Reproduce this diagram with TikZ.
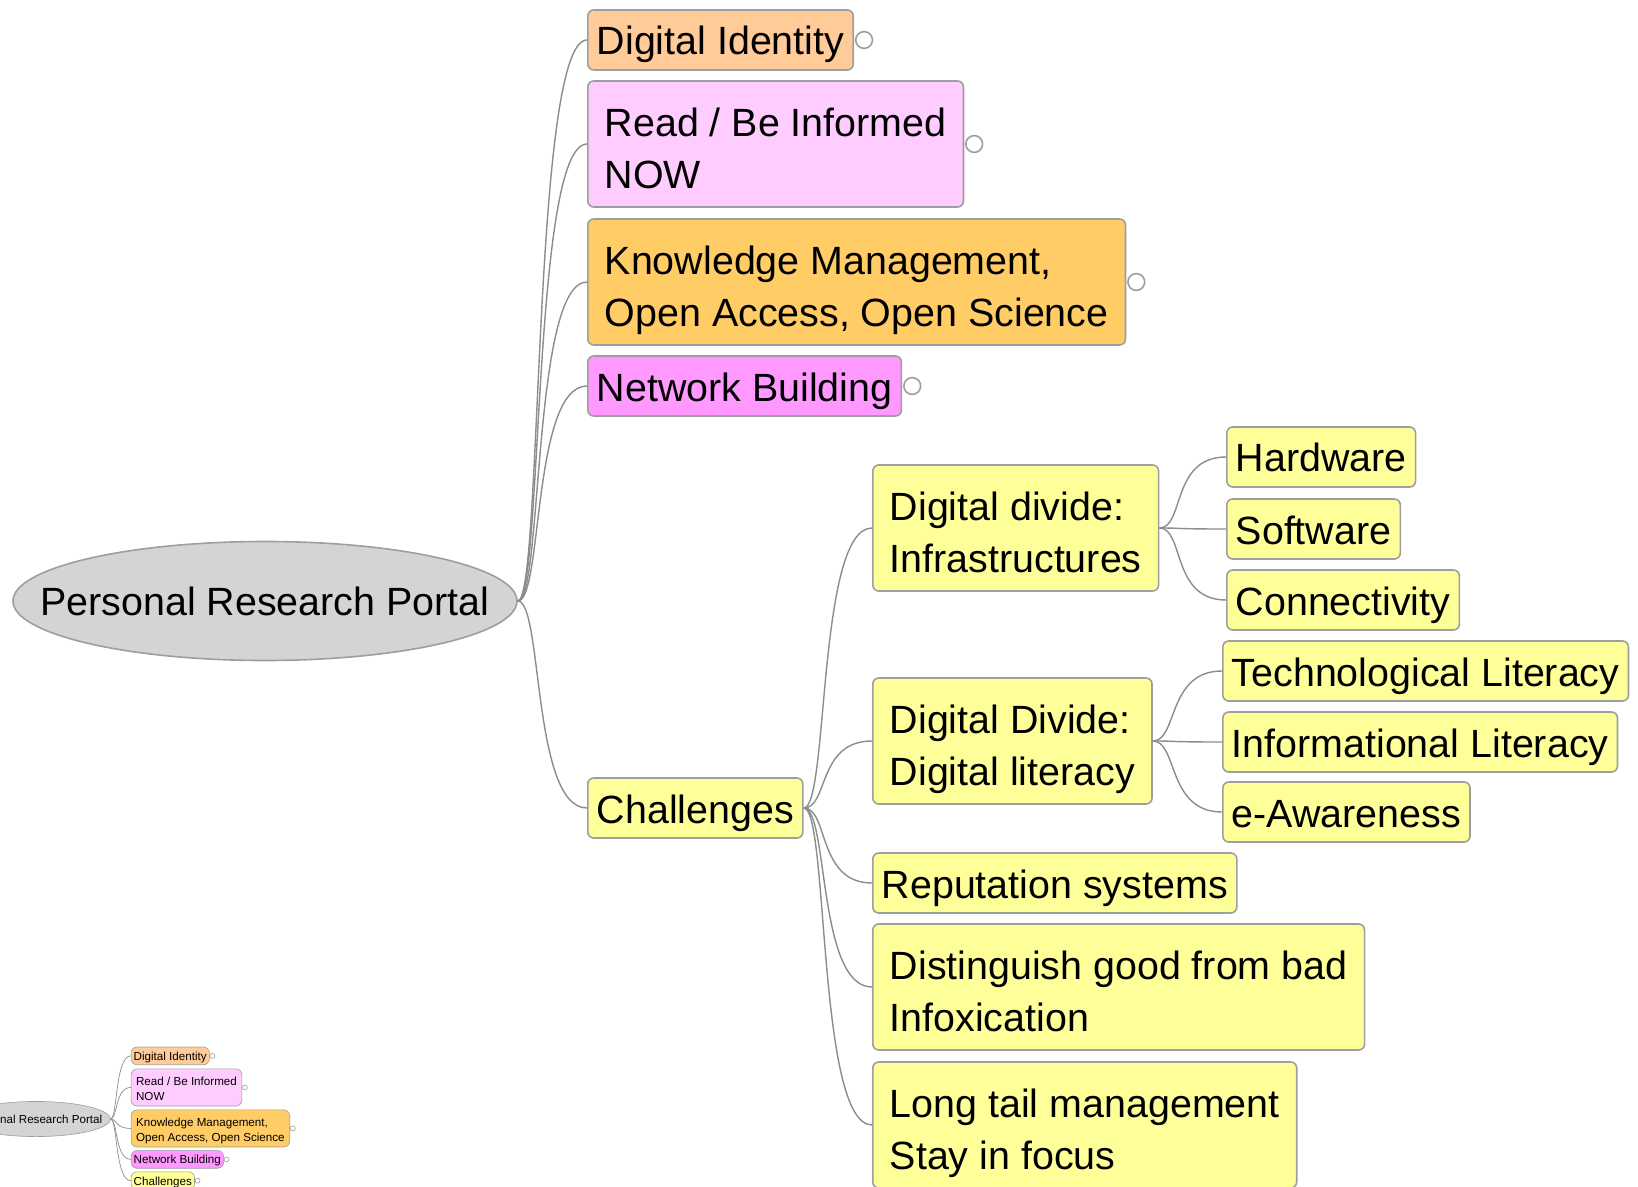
\documentclass[tikz,border=0pt]{standalone}
\usepackage{fontspec}
\setmainfont{Liberation Sans}
\usetikzlibrary{shapes.geometric}
\definecolor{peach}{HTML}{FFCC99}
\definecolor{blush}{HTML}{FFCCFF}
\definecolor{apricot}{HTML}{FFCC66}
\definecolor{orchid}{HTML}{FF99FF}
\definecolor{lemon}{HTML}{FFFF99}
\definecolor{portal}{HTML}{D4D4D4}
\definecolor{wire}{HTML}{8C8C8C}
\definecolor{rim}{HTML}{9E9E9E}

\begin{document}
\begin{tikzpicture}[x=0.5pt, y=-0.5pt,
    topic/.style={draw=rim, line width=0.8pt, rounded corners=3pt, anchor=west,
      inner ysep=0pt, font=\fontsize{19.7}{26}\selectfont},
    single/.style={topic, inner xsep=4.5pt, minimum height=30pt,
      text height=19pt, text depth=4pt},
    twoline/.style={topic, align=left, inner xsep=8.5pt, minimum height=63pt,
      text height=48.4pt, text depth=4pt},
    hub/.style={ellipse, draw=rim, line width=0.8pt, fill=portal, inner sep=0pt,
      minimum width=252pt, minimum height=59.5pt, font=\fontsize{19.7}{26}\selectfont},
    link/.style={draw=wire, line width=0.7pt},
    fold/.style={draw=rim, line width=0.8pt, fill=white}]
  \useasboundingbox (0,0) rectangle (1638,1187);
  \clip (0,0) rectangle (1638,1187);

  \node[hub] (root) at (265,601) {\makebox[0pt]{Personal Research Portal}};
  \node[single, fill=peach] (di) at (587,40) {Digital Identity};
  \node[twoline, fill=blush] (read) at (587,144) {Read / Be Informed\\NOW};
  \node[twoline, fill=apricot] (km) at (587,282) {Knowledge Management,\\Open Access, Open Science};
  \node[single, fill=orchid] (nb) at (587,386) {Network Building};
  \node[single, fill=lemon] (ch) at (587,808) {Challenges};

  \node[twoline, fill=lemon] (ddi) at (872,528) {Digital divide:\\Infrastructures};
  \node[single, fill=lemon] (hw) at (1226,457) {Hardware};
  \node[single, fill=lemon] (sw) at (1226,529) {Software};
  \node[single, fill=lemon] (cn) at (1226,600) {Connectivity};
  \node[twoline, fill=lemon] (ddl) at (872,741) {Digital Divide:\\Digital literacy};
  \node[single, fill=lemon] (tl) at (1222,671) {Technological Literacy};
  \node[single, fill=lemon] (il) at (1222,742) {Informational Literacy};
  \node[single, fill=lemon] (ea) at (1222,812) {e-Awareness};
  \node[single, fill=lemon] (rs) at (872,883) {Reputation systems};
  \node[twoline, fill=lemon] (dg) at (872,987) {Distinguish good from bad\\Infoxication};
  \node[twoline, fill=lemon] (lt) at (872,1125) {Long tail management\\Stay in focus};

  \foreach \n in {di,read,km,nb,ch}
    \draw[link] (root.east) .. controls +(25,0) and +(-55,0) .. (\n.west);
  \foreach \n in {ddi,ddl,rs,dg,lt}
    \draw[link] (ch.east) .. controls +(25,0) and +(-55,0) .. (\n.west);
  \foreach \n in {hw,sw,cn}
    \draw[link] (ddi.east) .. controls +(25,0) and +(-55,0) .. (\n.west);
  \foreach \n in {tl,il,ea}
    \draw[link] (ddl.east) .. controls +(25,0) and +(-55,0) .. (\n.west);
  \foreach \n in {di,read,km,nb}
    \draw[fold] ([xshift=5pt]\n.east) circle [radius=4.2pt];

  \begin{scope}[shift={(36,1119)}, scale=0.295,
      every node/.append style={transform shape},
      topic/.append style={line width=0.3pt}, hub/.append style={line width=0.3pt},
      link/.append style={line width=0.35pt}, fold/.append style={line width=0.3pt}]
    \node[hub] (mroot) at (0,0) {\makebox[0pt]{Personal Research Portal}};
    \node[single, fill=peach] (mdi) at (322,-214) {Digital Identity};
    \node[twoline, fill=blush] (mread) at (322,-107) {Read / Be Informed\\NOW};
    \node[twoline, fill=apricot] (mkm) at (322,32) {Knowledge Management,\\Open Access, Open Science};
    \node[single, fill=orchid] (mnb) at (322,137) {Network Building};
    \node[single, fill=lemon] (mch) at (322,209) {Challenges};
    \foreach \n in {mdi,mread,mkm,mnb,mch} {
      \draw[link] (mroot.east) .. controls +(25,0) and +(-55,0) .. (\n.west);
      \draw[fold] ([xshift=5pt]\n.east) circle [radius=4.2pt];
    }
  \end{scope}
\end{tikzpicture}
\end{document}
